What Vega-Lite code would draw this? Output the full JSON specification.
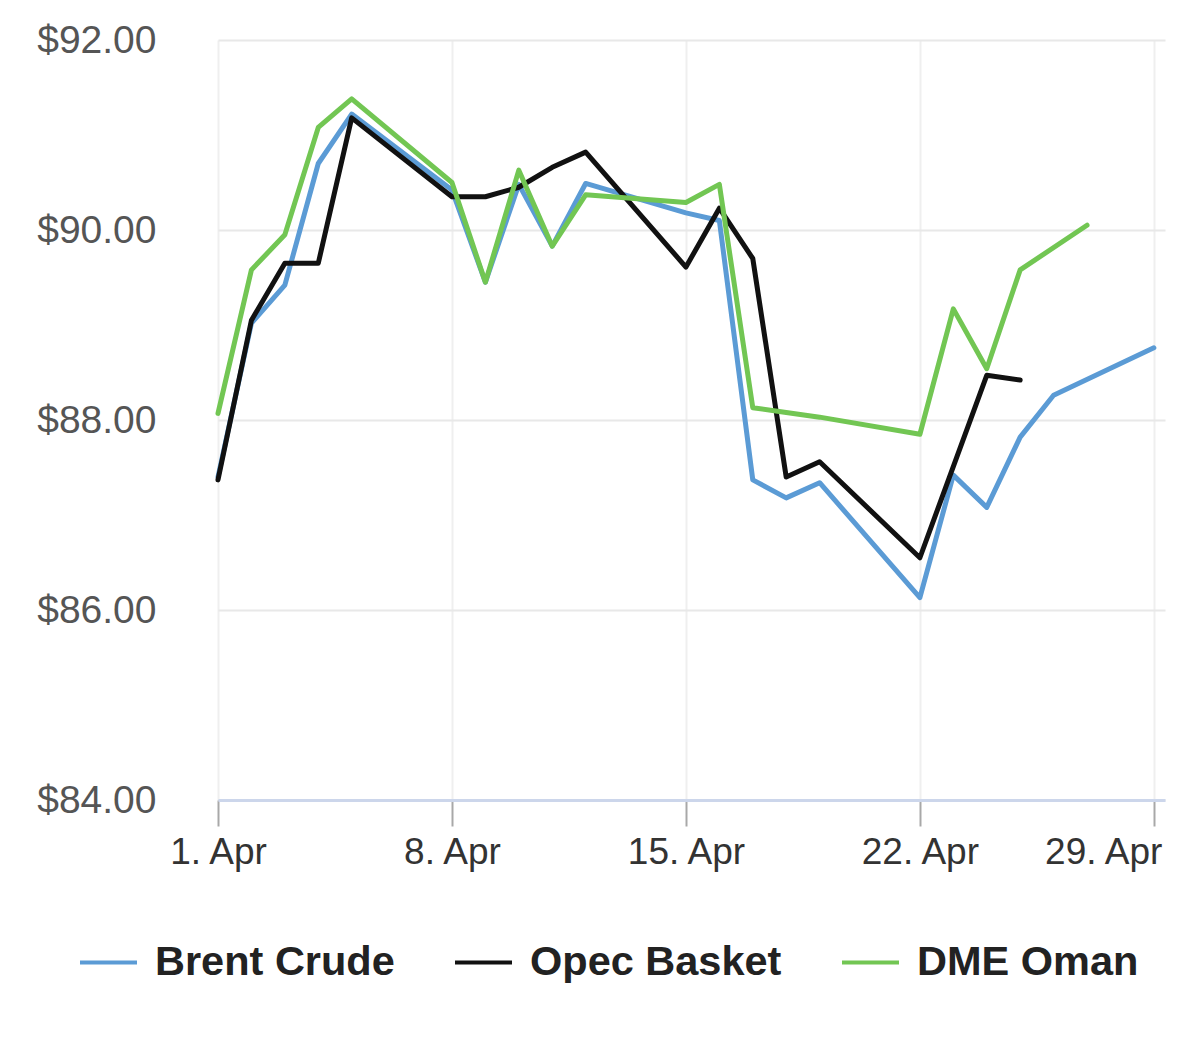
{
  "$schema": "https://vega.github.io/schema/vega-lite/v6.json",
  "width": 947,
  "height": 760,
  "autosize": {"type": "none"},
  "padding": {"left": 218, "top": 40, "right": 35, "bottom": 249},
  "background": "white",
  "config": {"view": {"stroke": null}, "font": "Liberation Sans"},
  "data": {
    "values": [
      {"date": "2024-04-01", "series": "Brent Crude", "price": 87.40},
      {"date": "2024-04-02", "series": "Brent Crude", "price": 89.02},
      {"date": "2024-04-03", "series": "Brent Crude", "price": 89.42},
      {"date": "2024-04-04", "series": "Brent Crude", "price": 90.70},
      {"date": "2024-04-05", "series": "Brent Crude", "price": 91.22},
      {"date": "2024-04-08", "series": "Brent Crude", "price": 90.42},
      {"date": "2024-04-09", "series": "Brent Crude", "price": 89.45},
      {"date": "2024-04-10", "series": "Brent Crude", "price": 90.48},
      {"date": "2024-04-11", "series": "Brent Crude", "price": 89.83},
      {"date": "2024-04-12", "series": "Brent Crude", "price": 90.49},
      {"date": "2024-04-15", "series": "Brent Crude", "price": 90.18},
      {"date": "2024-04-16", "series": "Brent Crude", "price": 90.10},
      {"date": "2024-04-17", "series": "Brent Crude", "price": 87.37},
      {"date": "2024-04-18", "series": "Brent Crude", "price": 87.18},
      {"date": "2024-04-19", "series": "Brent Crude", "price": 87.34},
      {"date": "2024-04-22", "series": "Brent Crude", "price": 86.13},
      {"date": "2024-04-23", "series": "Brent Crude", "price": 87.42},
      {"date": "2024-04-24", "series": "Brent Crude", "price": 87.08},
      {"date": "2024-04-25", "series": "Brent Crude", "price": 87.82},
      {"date": "2024-04-26", "series": "Brent Crude", "price": 88.26},
      {"date": "2024-04-29", "series": "Brent Crude", "price": 88.76},
      {"date": "2024-04-01", "series": "Opec Basket", "price": 87.37},
      {"date": "2024-04-02", "series": "Opec Basket", "price": 89.05},
      {"date": "2024-04-03", "series": "Opec Basket", "price": 89.65},
      {"date": "2024-04-04", "series": "Opec Basket", "price": 89.65},
      {"date": "2024-04-05", "series": "Opec Basket", "price": 91.18},
      {"date": "2024-04-08", "series": "Opec Basket", "price": 90.35},
      {"date": "2024-04-09", "series": "Opec Basket", "price": 90.35},
      {"date": "2024-04-10", "series": "Opec Basket", "price": 90.45},
      {"date": "2024-04-11", "series": "Opec Basket", "price": 90.66},
      {"date": "2024-04-12", "series": "Opec Basket", "price": 90.82},
      {"date": "2024-04-15", "series": "Opec Basket", "price": 89.61},
      {"date": "2024-04-16", "series": "Opec Basket", "price": 90.23},
      {"date": "2024-04-17", "series": "Opec Basket", "price": 89.70},
      {"date": "2024-04-18", "series": "Opec Basket", "price": 87.40},
      {"date": "2024-04-19", "series": "Opec Basket", "price": 87.56},
      {"date": "2024-04-22", "series": "Opec Basket", "price": 86.55},
      {"date": "2024-04-24", "series": "Opec Basket", "price": 88.47},
      {"date": "2024-04-25", "series": "Opec Basket", "price": 88.42},
      {"date": "2024-04-01", "series": "DME Oman", "price": 88.07},
      {"date": "2024-04-02", "series": "DME Oman", "price": 89.58},
      {"date": "2024-04-03", "series": "DME Oman", "price": 89.95},
      {"date": "2024-04-04", "series": "DME Oman", "price": 91.08},
      {"date": "2024-04-05", "series": "DME Oman", "price": 91.38},
      {"date": "2024-04-08", "series": "DME Oman", "price": 90.50},
      {"date": "2024-04-09", "series": "DME Oman", "price": 89.45},
      {"date": "2024-04-10", "series": "DME Oman", "price": 90.63},
      {"date": "2024-04-11", "series": "DME Oman", "price": 89.83},
      {"date": "2024-04-12", "series": "DME Oman", "price": 90.37},
      {"date": "2024-04-15", "series": "DME Oman", "price": 90.29},
      {"date": "2024-04-16", "series": "DME Oman", "price": 90.48},
      {"date": "2024-04-17", "series": "DME Oman", "price": 88.13},
      {"date": "2024-04-18", "series": "DME Oman", "price": 88.08},
      {"date": "2024-04-19", "series": "DME Oman", "price": 88.03},
      {"date": "2024-04-22", "series": "DME Oman", "price": 87.85},
      {"date": "2024-04-23", "series": "DME Oman", "price": 89.17},
      {"date": "2024-04-24", "series": "DME Oman", "price": 88.54},
      {"date": "2024-04-25", "series": "DME Oman", "price": 89.58},
      {"date": "2024-04-27", "series": "DME Oman", "price": 90.05}
    ]
  },
  "mark": {"type": "line", "strokeWidth": 5, "strokeJoin": "round", "strokeCap": "round"},
  "encoding": {
    "x": {
      "field": "date",
      "type": "temporal",
      "scale": {
        "type": "utc",
        "domain": [
          {"year": 2024, "month": 4, "date": 1, "utc": true},
          {"year": 2024, "month": 4, "date": 29, "hours": 8, "utc": true}
        ]
      },
      "axis": {
        "title": null,
        "values": [
          {"year": 2024, "month": 4, "date": 1, "utc": true},
          {"year": 2024, "month": 4, "date": 8, "utc": true},
          {"year": 2024, "month": 4, "date": 15, "utc": true},
          {"year": 2024, "month": 4, "date": 22, "utc": true},
          {"year": 2024, "month": 4, "date": 29, "utc": true}
        ],
        "format": "%-d. %b",
        "labelFont": "Liberation Sans",
        "labelFontSize": 37,
        "labelColor": "#333333",
        "labelFlush": false,
        "labelBound": false,
        "labelAlign": {"condition": {"test": "utcdate(datum.value) == 29", "value": "right"}, "value": "center"},
        "labelOffset": {"condition": {"test": "utcdate(datum.value) == 29", "value": 8}, "value": 0},
        "labelPadding": 8,
        "tickSize": 26,
        "tickColor": "#a8a8a8",
        "tickWidth": 2,
        "domainColor": "#ccd6eb",
        "domainWidth": 3,
        "grid": true,
        "gridColor": "#efefef",
        "gridWidth": 2
      }
    },
    "y": {
      "field": "price",
      "type": "quantitative",
      "scale": {"domain": [84, 92], "nice": false, "zero": false},
      "axis": {
        "title": null,
        "values": [84, 86, 88, 90, 92],
        "format": "$.2f",
        "labelFont": "Liberation Sans",
        "labelFontSize": 39,
        "labelColor": "#555555",
        "labelPadding": 62,
        "domain": false,
        "ticks": false,
        "grid": true,
        "gridColor": "#e8e8e8",
        "gridWidth": 2
      }
    },
    "color": {
      "field": "series",
      "type": "nominal",
      "scale": {
        "domain": ["Brent Crude", "Opec Basket", "DME Oman"],
        "range": ["#5b9bd5", "#111111", "#72c653"]
      },
      "legend": {
        "title": null,
        "orient": "none",
        "legendX": -140,
        "legendY": 892,
        "direction": "horizontal",
        "symbolType": "stroke",
        "symbolSize": 3249,
        "symbolStrokeWidth": 4,
        "labelFont": "Liberation Sans",
        "labelFontSize": 41.5,
        "labelFontWeight": "bold",
        "labelColor": "#222222",
        "labelLimit": 500,
        "labelOffset": 16,
        "columnPadding": 52
      }
    }
  }
}
